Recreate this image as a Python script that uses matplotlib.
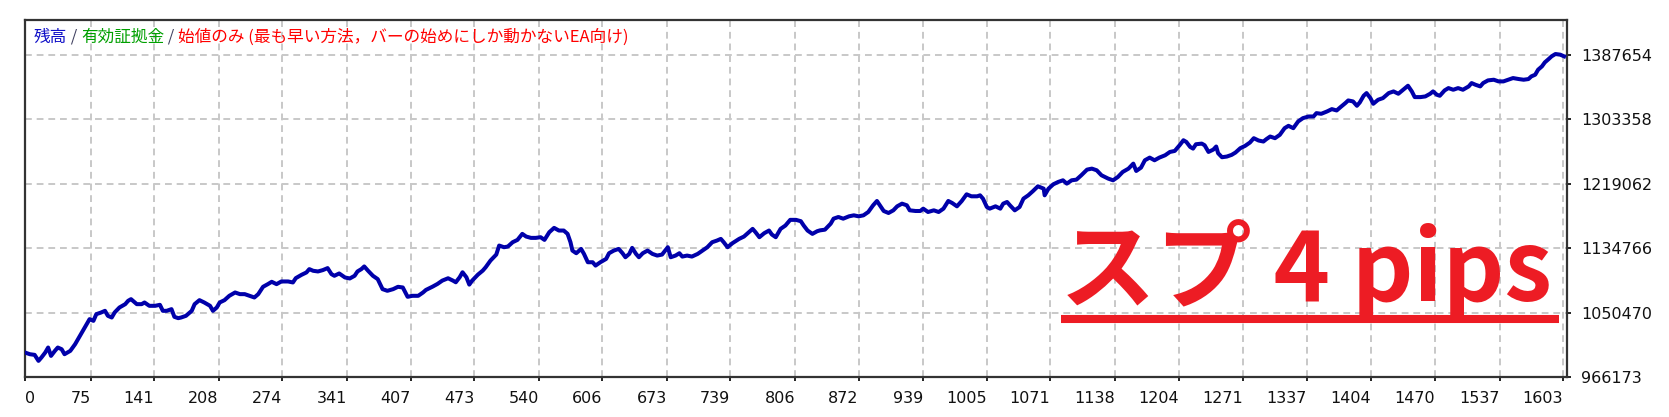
import matplotlib
matplotlib.use('Agg')
import matplotlib.pyplot as plt
from matplotlib.lines import Line2D

# ---------------- data ----------------
trades = [7, 12, 17, 21, 24, 28, 31, 34, 38, 41, 45, 48, 54, 59, 64, 69, 74, 78, 81, 86,
          90, 93, 97, 100, 105, 111, 114, 117, 123, 128, 131, 136, 142, 147, 150, 154, 159, 162, 166, 169,
          174, 180, 183, 188, 193, 199, 202, 206, 209, 214, 219, 225, 230, 235, 240, 245, 249, 254, 259, 263,
          268, 273, 280, 285, 288, 294, 299, 302, 306, 311, 316, 321, 325, 328, 333, 339, 344, 349, 352, 356,
          359, 363, 368, 373, 378, 383, 389, 394, 399, 404, 409, 415, 420,
          423, 430, 435, 440, 446, 451, 454, 458, 461, 465, 468, 471, 477, 482, 485, 490, 496, 499, 504, 508,
          513, 518, 523, 527, 532, 537, 542, 546, 551, 556, 561, 566, 570, 573, 575, 579, 584, 587, 591, 596,
          599, 604, 610, 613, 618, 623, 627, 630, 634, 637, 641, 644, 648, 653, 658, 663, 668, 674, 677, 682,
          686, 689, 694, 699, 705, 710, 715, 720, 725, 729, 732, 736, 741, 748, 753, 758, 762, 765, 769, 774,
          779, 782, 786, 791, 796, 801, 807, 812, 815, 819, 824, 829,
          832, 837, 843, 846, 851, 856, 862, 867, 872, 877, 882, 887, 891, 894, 898, 903, 908, 912, 917, 922,
          925, 931, 936, 939, 944, 950, 955, 960, 965, 969, 974, 979, 984, 989, 995, 998, 1001, 1005, 1008, 1014,
          1019, 1022, 1026, 1029, 1034, 1039, 1043, 1048, 1053, 1058, 1064, 1065, 1069, 1074, 1079, 1084, 1088, 1093, 1098, 1103,
          1109, 1114, 1119, 1124, 1131, 1136, 1141, 1146, 1152, 1157, 1160, 1165, 1169, 1174, 1179, 1184, 1190, 1195, 1200, 1205,
          1209, 1212, 1216, 1219, 1222, 1228, 1231, 1235, 1240,
          1243, 1245, 1249, 1254, 1259, 1263, 1268, 1273, 1278, 1282, 1287, 1292, 1295, 1299, 1304, 1309, 1314, 1318, 1323, 1328,
          1333, 1339, 1344, 1347, 1352, 1358, 1363, 1368, 1372, 1377, 1380, 1385, 1389, 1392, 1396, 1399, 1403, 1406, 1411, 1416,
          1422, 1427, 1432, 1437, 1442, 1446, 1449, 1455, 1460, 1465, 1468, 1472, 1475, 1480, 1484, 1489, 1494, 1499, 1505, 1508,
          1512, 1517, 1520, 1525, 1531, 1536, 1541, 1546, 1551, 1557, 1562, 1567, 1570, 1574, 1577, 1581, 1584, 1588, 1591, 1595,
          1600, 1604]

balance = [998166, 995985, 995112, 987259, 991622, 998166, 1004711, 993803, 1000348, 1004711, 1002530, 995985, 1000348, 1009074, 1019981, 1030889, 1041796, 1039615, 1048341, 1050522,
           1052704, 1046159, 1043978, 1050522, 1057067, 1061430, 1065793, 1067974, 1061430, 1061430, 1063611, 1059248, 1059248, 1060557, 1052704, 1052704, 1054885, 1044851, 1043105, 1043978,
           1046159, 1052704, 1061430, 1066666, 1063611, 1059248, 1052704, 1057067, 1063611, 1066666, 1072337, 1076700, 1074519, 1074519, 1072337, 1070156, 1074519, 1084118, 1087608, 1090662,
           1087608, 1091098, 1091098, 1089789, 1095461, 1099824, 1102878, 1107241, 1105060, 1104187, 1105933, 1108550, 1100697, 1098515, 1101570, 1096334, 1095025, 1098515, 1104187, 1107241,
           1110732, 1105060, 1098515, 1094152, 1081063, 1078882, 1081063, 1084118, 1083245, 1071029, 1072337, 1072337, 1076700,
           1080023, 1084386, 1087876, 1092239, 1095293, 1092239, 1090057, 1096602, 1103146, 1096602, 1087003, 1092239, 1100092, 1105328, 1109691, 1118417, 1126270, 1138050, 1135869, 1136742,
           1142413, 1145468, 1153321, 1149831, 1148085, 1148085, 1148958, 1145468, 1155502, 1161174, 1157684, 1157684, 1153321, 1142413, 1131506, 1128016, 1133687, 1127143, 1116235, 1116235,
           1111872, 1116235, 1120598, 1128016, 1131506, 1133687, 1128016, 1122780, 1127143, 1134996, 1127143, 1122780, 1128016, 1131506, 1127143, 1124961, 1126270, 1135869, 1122780, 1124961,
           1128016, 1123653, 1124961, 1123653, 1127143, 1131506, 1135869, 1142413, 1144595, 1146776, 1142413, 1135869, 1141105, 1146776, 1149831, 1155502, 1159865, 1155502, 1148958, 1154194,
           1157684, 1152448, 1148958, 1159865, 1164228, 1171646, 1171646, 1169900, 1164228, 1157684, 1153321, 1156811,
           1157947, 1158820, 1166673, 1173217, 1175399, 1173217, 1176272, 1177580, 1176272, 1177580, 1181943, 1190669, 1196341, 1190669, 1183252, 1180635, 1184125, 1189361, 1192851, 1190669,
           1184125, 1183252, 1183252, 1186306, 1181943, 1184125, 1181943, 1186306, 1196341, 1193724, 1189361, 1196341, 1205067, 1202450, 1202450, 1203758, 1199395, 1188488, 1186306, 1189361,
           1186306, 1192851, 1195032, 1190669, 1184125, 1188488, 1199395, 1203758, 1209430, 1215539, 1212484, 1203758, 1212484, 1218156, 1221210, 1223392, 1219029, 1223392, 1224265, 1229936,
           1237354, 1238662, 1236481, 1229936, 1225573, 1223392, 1227755, 1234299, 1238662, 1245207, 1235608, 1239971, 1249570, 1253060, 1249570, 1253060, 1256114, 1260477, 1261786, 1269203,
           1275748, 1273566, 1267022, 1264840, 1270512, 1271385, 1269203, 1260477, 1263532,
           1267534, 1258798, 1253556, 1254430, 1256614, 1259672, 1265350, 1268408, 1272776, 1278454, 1275396, 1274086, 1277144, 1280638, 1278454, 1282822, 1291558, 1294616, 1291558, 1300294,
           1304662, 1306846, 1306846, 1311214, 1310340, 1313398, 1316456, 1314708, 1319076, 1324318, 1327812, 1326502, 1320824, 1325192, 1333928, 1337422, 1330870, 1323444, 1328686, 1330870,
           1337422, 1339606, 1336548, 1341790, 1347032, 1339606, 1332180, 1332180, 1333054, 1336548, 1339606, 1335238, 1333928, 1340916, 1343974, 1341790, 1343974, 1341790, 1346158, 1350526,
           1348342, 1346158, 1350526, 1354020, 1354894, 1352710, 1352710, 1354894, 1357078, 1355768, 1354894, 1355768, 1359262, 1361446, 1367998, 1372366, 1377608, 1381976, 1385470, 1388528,
           1387654, 1385470]

x_tick_labels = [0, 75, 141, 208, 274, 341, 407, 473, 540, 606, 673, 739, 806, 872, 939,
                 1005, 1071, 1138, 1204, 1271, 1337, 1404, 1470, 1537, 1603]
y_ticks = [966173, 1050470, 1134766, 1219062, 1303358, 1387654]

legend_parts = [("残高", '#1010C8'), (" / ", '#404060'), ("有効証拠金", '#00A000'),
                (" / ", '#404060'), ("始値のみ (最も早い方法，バーの始めにしか動かないEA向け)", '#FF0000')]
big_label = "スプ 4 pips"

# ---------------- figure ----------------
W, H = 1669, 417
fig = plt.figure(figsize=(W / 100, H / 100), dpi=100)
fig.patch.set_facecolor('white')
ax = fig.add_axes([25 / W, 1 - 377 / H, (1567 - 25) / W, (377 - 20) / H])

ax.plot(trades, balance, color='#0000AA', lw=2.9, solid_joinstyle='round', zorder=3)

x_left = trades[0]
ax.set_xlim(x_left, 1607)
ax.set_ylim(y_ticks[0], 1433000)

ax.set_xticks([x_left] + x_tick_labels[1:])
ax.set_xticklabels([str(v) for v in x_tick_labels])
for i, lab in enumerate(ax.get_xticklabels()):
    lab.set_ha('left' if i == 0 else 'right')

ax.yaxis.tick_right()
ax.set_yticks(y_ticks)
ax.set_yticklabels([str(v) for v in y_ticks])

ax.grid(True, color='#C8C8C8', lw=1.4, linestyle=(0, (3.5, 2.5)), zorder=0)
ax.set_axisbelow(True)

for sp in ax.spines.values():
    sp.set_color('#333333')
    sp.set_linewidth(1.6)

ax.tick_params(axis='x', direction='out', length=3, width=1.4, color='#222222', pad=7,
               labelsize=11.5, labelcolor='#111111')
ax.tick_params(axis='y', direction='out', length=3, width=1.4, color='#222222', pad=7,
               labelsize=11.5, labelcolor='#111111', right=True, left=False)

# legend-like header text
cjk = ['Noto Sans CJK JP', 'DejaVu Sans']
t = fig.text(34 / W, 1 - 46 / H, legend_parts[0][0], color=legend_parts[0][1],
             fontsize=12, family=cjk, va='bottom', ha='left')
for s, c in legend_parts[1:]:
    t = ax.annotate(s, xy=(1, 0), xycoords=t, va='bottom', ha='left', color=c,
                    fontsize=12, family=cjk, annotation_clip=False)

# big red label
fig.text(1060 / W, 1 - 301 / H, big_label, fontsize=69, fontweight='bold',
         color='#ED1C24', family=cjk, va='baseline', ha='left', zorder=5)
fig.add_artist(Line2D([1061 / W, 1559 / W], [1 - 319 / H] * 2, transform=fig.transFigure,
                      color='#ED1C24', lw=5.8, solid_capstyle='butt', zorder=5))

fig.savefig('out.png', dpi=100)
